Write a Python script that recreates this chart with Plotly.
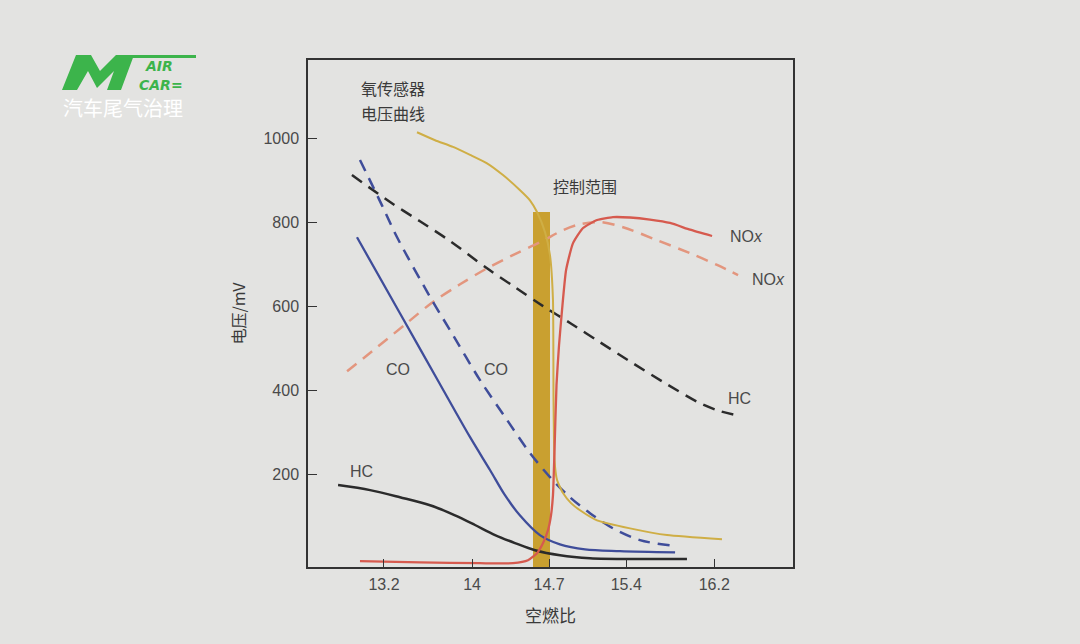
import plotly.graph_objects as go

# ---------------- data (air-fuel ratio vs mV) ----------------
X_TICKS = [13.2, 14, 14.7, 15.4, 16.2]
X_TICK_TEXT = ["13.2", "14", "14.7", "15.4", "16.2"]
Y_TICKS = [200, 400, 600, 800, 1000]
X_RANGE = [12.51, 16.915]
Y_RANGE = [-21, 1186]

o2_x = [13.500, 13.664, 13.827, 13.982, 14.136, 14.281, 14.436, 14.526, 14.590, 14.663, 14.708, 14.735,
        14.740, 14.749, 14.772, 14.826, 14.899, 14.981, 15.135, 15.435, 15.771, 16.270]
o2_y = [1014, 995, 979, 960, 940, 912, 876, 852, 824, 776, 721, 614,
        376, 233, 186, 155, 131, 114, 90, 71, 55, 45]

co_solid_x = [12.955, 13.345, 13.709, 13.982, 14.163, 14.299, 14.434, 14.616, 14.798, 15.026, 15.344, 15.844]
co_solid_y = [764, 583, 414, 288, 210, 150, 102, 55, 33, 21, 17, 14]

co_dash_x = [12.982, 13.182, 13.319, 13.645, 13.800, 14.072, 14.318, 14.527, 14.708, 14.890, 15.071, 15.280, 15.525, 15.844]
co_dash_y = [948, 840, 764, 610, 543, 424, 329, 250, 193, 145, 107, 71, 43, 29]

hc_solid_x = [12.783, 13.074, 13.345, 13.618, 13.845, 14.027, 14.209, 14.390, 14.572, 14.799, 15.071, 15.525, 15.952]
hc_solid_y = [174, 162, 145, 126, 102, 79, 55, 36, 19, 7, 0, -2, -2]

hc_dash_x = [12.909, 13.272, 13.527, 13.800, 14.136, 14.390, 14.645, 14.890, 15.162, 15.462, 15.771, 16.070, 16.252, 16.407]
hc_dash_y = [912, 845, 802, 755, 690, 645, 600, 560, 514, 464, 414, 369, 350, 340]

nox_solid_x = [12.982, 13.527, 14.072, 14.372, 14.508, 14.590, 14.645, 14.690, 14.717, 14.735, 14.749, 14.767,
               14.790, 14.817, 14.854, 14.917, 15.008, 15.135, 15.280, 15.435, 15.616, 15.798, 15.980, 16.180]
nox_solid_y = [-7, -10, -12, -12, -5, 12, 36, 67, 102, 150, 257, 412,
               507, 590, 686, 750, 786, 805, 812, 811, 806, 798, 782, 767]

nox_dash_x = [12.865, 13.137, 13.409, 13.645, 13.891, 14.136, 14.390, 14.617, 14.826, 14.981, 15.162, 15.371, 15.680, 15.980, 16.225, 16.416]
nox_dash_y = [445, 502, 560, 610, 652, 690, 724, 752, 781, 795, 800, 788, 757, 726, 698, 674]

CONTROL_RANGE = [14.555, 14.71]
CONTROL_TOP = 824

# ---------------- style ----------------
BG = "#e3e3e1"
GOLD = "#c9a030"
YELLOW = "#cfae45"
BLUE = "#3f4d9a"
BLACK = "#2b2b2b"
RED = "#d65a4e"
SALMON = "#e3967e"
TXT = "#4a4a4a"
FONT = "Liberation Sans, Noto Sans CJK SC, sans-serif"
CJK = "Noto Sans CJK SC, sans-serif"

fig = go.Figure()

# control range bar (drawn beneath curves)
fig.add_trace(go.Bar(
    x=[(CONTROL_RANGE[0] + CONTROL_RANGE[1]) / 2],
    y=[CONTROL_TOP - Y_RANGE[0]],
    base=[Y_RANGE[0]],
    width=[CONTROL_RANGE[1] - CONTROL_RANGE[0]],
    marker=dict(color=GOLD, line=dict(width=0)),
    showlegend=False, hoverinfo="skip",
))

def line(x, y, color, width=2.5, dash="solid", smoothing=0.9):
    fig.add_trace(go.Scatter(
        x=x, y=y, mode="lines",
        line=dict(color=color, width=width, dash=dash, shape="spline", smoothing=smoothing),
        showlegend=False, hoverinfo="skip",
    ))

line(nox_dash_x, nox_dash_y, SALMON, 2.5, "12px,8px")
line(hc_dash_x, hc_dash_y, BLACK, 2.5, "12px,8px")
line(co_dash_x, co_dash_y, BLUE, 2.5, "12px,8px")
line(co_solid_x, co_solid_y, BLUE, 2.3)
line(hc_solid_x, hc_solid_y, BLACK, 2.5)
line(o2_x, o2_y, YELLOW, 2.0, smoothing=0.5)
line(nox_solid_x, nox_solid_y, RED, 2.3, smoothing=0.5)

# ---------------- annotations ----------------
def label(x, y, text, size=16, color=TXT, xanchor="center", family=FONT):
    fig.add_annotation(x=x, y=y, xref="x", yref="y", text=text, showarrow=False,
                       font=dict(size=size, color=color, family=family),
                       xanchor=xanchor, yanchor="middle")

label(12.97, 1120, "氧传感器", size=16, color="#3a3a3a", xanchor="left", family=CJK)
label(12.97, 1061, "电压曲线", size=16, color="#3a3a3a", xanchor="left", family=CJK)
label(15.03, 885, "控制范围", size=16, color="#3a3a3a", family=CJK)
label(16.49, 767, "NO<i>x</i>", size=16)
label(16.69, 664, "NO<i>x</i>", size=16)
label(16.43, 380, "HC", size=16)
label(13.33, 449, "CO", size=16)
label(14.22, 449, "CO", size=16)
label(13.0, 206, "HC", size=16)

# ---------------- logo (graphic M + text) ----------------
GREEN = "#3cb44b"
def pfx(px):
    return (px - 308) / 485
def pfy(py):
    return (567 - py) / 507

M_OUTLINE = [(62, 90), (76, 55), (91, 55), (100, 71), (116, 55), (134, 55),
             (121, 90), (107, 90), (114, 71), (97, 88), (88, 71), (77, 90)]
m_path = "M " + " L ".join(f"{pfx(a):.5f},{pfy(b):.5f}" for a, b in M_OUTLINE) + " Z"
fig.add_shape(type="path", xref="paper", yref="paper", path=m_path,
              fillcolor=GREEN, line=dict(width=0))
fig.add_shape(type="rect", xref="paper", yref="paper",
              x0=pfx(130), x1=pfx(196), y0=pfy(58), y1=pfy(55),
              fillcolor=GREEN, line=dict(width=0))
fig.add_annotation(x=pfx(143), y=pfy(66), xref="paper", yref="paper", showarrow=False,
                   text="<b><i>AIR</i></b>", font=dict(size=14, color=GREEN, family="DejaVu Sans"),
                   xanchor="left", yanchor="middle")
fig.add_annotation(x=pfx(137), y=pfy(85), xref="paper", yref="paper", showarrow=False,
                   text="<b><i>CAR=</i></b>", font=dict(size=14, color=GREEN, family="DejaVu Sans"),
                   xanchor="left", yanchor="middle")
fig.add_annotation(x=pfx(123), y=pfy(107), xref="paper", yref="paper", showarrow=False,
                   text="汽车尾气治理", font=dict(size=20, color="#ffffff", family=CJK),
                   xanchor="center", yanchor="middle")

# ---------------- layout ----------------
fig.update_layout(
    width=1080, height=644,
    margin=dict(l=308, r=287, t=60, b=77),
    paper_bgcolor=BG, plot_bgcolor=BG,
    font=dict(family=FONT, color=TXT, size=16),
    bargap=0,
    xaxis=dict(
        range=X_RANGE, tickvals=X_TICKS, ticktext=X_TICK_TEXT,
        showgrid=False, zeroline=False,
        showline=True, linecolor="#333333", linewidth=1.5, mirror=True,
        ticks="inside", ticklen=8, tickwidth=1.3, tickcolor="#333333",
        tickfont=dict(size=16, color=TXT, family=FONT),
        ticklabelstandoff=2,
        title=dict(text="空燃比", font=dict(size=17, color="#3a3a3a", family=CJK), standoff=18),
    ),
    yaxis=dict(
        range=Y_RANGE, tickvals=Y_TICKS,
        showgrid=False, zeroline=False,
        showline=True, linecolor="#333333", linewidth=1.5, mirror=True,
        ticks="inside", ticklen=9, tickwidth=1.3, tickcolor="#333333",
        tickfont=dict(size=16, color=TXT, family=FONT),
        ticklabelstandoff=4,
        title=dict(text="电压/mV", font=dict(size=16, color="#3a3a3a", family=CJK), standoff=14),
    ),
)

fig.write_html("out.html", config={"displayModeBar": False},
               post_script="document.body.style.margin='0';")
